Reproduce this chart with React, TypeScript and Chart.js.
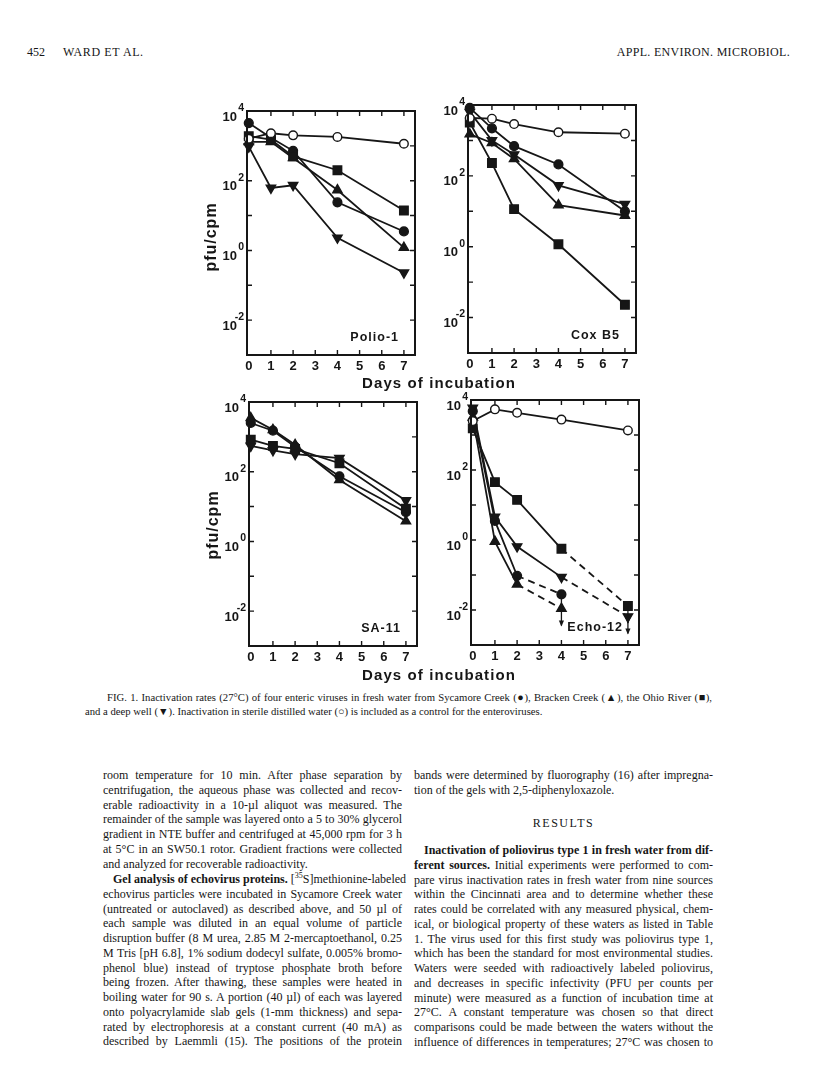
import React, { useEffect, useRef } from "react";
import { Chart, registerables } from "chart.js";

Chart.register(...registerables);

// ---------- data ----------
const days = [0, 1, 2, 4, 7];
const xTickLabels = ["0", "1", "2", "3", "4", "5", "6", "7"];
const yTickExponents = [4, 2, 0, -2];

// Polio-1 (pfu/cpm)
const polioDistilled = [1600, 2300, 2000, 1800, 1150];
const polioSycamore = [4500, 1700, 720, 24, 3.5];
const polioBracken = [1300, 1300, 450, 54, 1.2];
const polioOhio = [1900, 1500, 500, 200, 14];
const polioWell = [950, 62, 74, 2.3, 0.23];

// Cox B5
const coxDistilled = [4300, 4100, 2900, 1700, 1550];
const coxSycamore = [8300, 2200, 690, 210, 10];
const coxBracken = [1500, 850, 300, 15, 7.6];
const coxOhio = [3200, 230, 11.5, 1.17, 0.023];
const coxWell = [6300, 1000, 400, 54, 16];

// SA-11
const saSycamore = [2500, 1500, 520, 74, 6.9];
const saBracken = [3500, 1600, 590, 58, 3.8];
const saOhio = [830, 550, 450, 175, 8.7];
const saWell = [550, 410, 320, 245, 15];

// Echo-12
const echoDistilled = [2500, 5400, 4300, 2750, 1350];
const echoSycamore = [4800, 3.5, 0.095, 0.028];
const echoBracken = [3200, 0.9, 0.054, 0.011];
const echoOhio = [1550, 45, 14, 0.56, 0.013];
const echoWell = [5900, 4.6, 0.65, 0.087, 0.0065];
// dashed segments start at this point index; upper-limit arrows
const echoSycamoreDashFrom = 2;
const echoBrackenDashFrom = 2;
const echoOhioDashFrom = 3;
const echoWellDashFrom = 3;
const echoSycamoreLimits = [false, false, false, true];
const echoBrackenLimits = [false, false, false, true];
const echoOhioLimits = [false, false, false, false, true];
const echoWellLimits = [false, false, false, false, true];

const INK = "#161616";
const SANS = '"Liberation Sans", Arial, Helvetica, sans-serif';
const SERIF = '"Liberation Serif", "Times New Roman", Times, serif';

type Kind = "sycamore" | "bracken" | "ohio" | "well" | "distilled";

function makeDataset(values: number[], kind: Kind, dashFrom?: number, limits?: boolean[]) {
  const pts = values.map((v, i) => ({ x: days[i], y: v }));
  let pointStyle: any = "circle";
  let pointRadius = 4.4;
  let rotation = 0;
  let bg = INK;
  if (kind === "bracken") { pointStyle = "triangle"; pointRadius = 5.4; }
  if (kind === "well") { pointStyle = "triangle"; pointRadius = 5.4; rotation = 180; }
  if (kind === "ohio") { pointStyle = "rect"; pointRadius = 6; }
  if (kind === "distilled") { pointRadius = 4.3; bg = "#ffffff"; }
  const ds: any = {
    data: pts,
    borderColor: INK,
    borderWidth: 1.8,
    pointStyle,
    pointRotation: rotation,
    pointRadius,
    pointBackgroundColor: bg,
    pointBorderColor: INK,
    pointBorderWidth: 1.4,
    tension: 0,
    fill: false,
    clip: false,
    limits,
  };
  if (dashFrom !== undefined) {
    ds.segment = {
      borderDash: (ctx: any) => (ctx.p0DataIndex >= dashFrom ? [7, 5] : undefined),
    };
  }
  return ds;
}

function decorPlugin(title: string) {
  return {
    id: "decor",
    afterDraw(chart: any) {
      const { ctx, chartArea: a } = chart;
      const x = chart.scales.x;
      const y = chart.scales.y;
      ctx.save();
      ctx.strokeStyle = INK;
      ctx.fillStyle = INK;
      ctx.lineWidth = 2;
      ctx.strokeRect(a.left, a.top, a.right - a.left, a.bottom - a.top);
      ctx.lineWidth = 1.4;
      ctx.beginPath();
      for (let d = 1; d <= 7; d++) {
        const px = x.getPixelForValue(d);
        ctx.moveTo(px, a.top); ctx.lineTo(px, a.top + 5);
        ctx.moveTo(px, a.bottom); ctx.lineTo(px, a.bottom - 5);
      }
      for (let e = -2; e <= 3; e++) {
        const py = y.getPixelForValue(Math.pow(10, e));
        ctx.moveTo(a.left, py); ctx.lineTo(a.left + 5, py);
        ctx.moveTo(a.right, py); ctx.lineTo(a.right - 5, py);
      }
      ctx.stroke();
      // x tick labels
      ctx.font = `bold 13px ${SANS}`;
      ctx.textAlign = "center";
      ctx.textBaseline = "middle";
      xTickLabels.forEach((t, i) => ctx.fillText(t, x.getPixelForValue(i), a.bottom + 11));
      // y tick labels 10^n
      yTickExponents.forEach((e) => {
        const py = y.getPixelForValue(Math.pow(10, e));
        ctx.textAlign = "right";
        ctx.font = `bold 13px ${SANS}`;
        ctx.fillText("10", a.left - 10, py + 6);
        ctx.font = `bold 10.5px ${SANS}`;
        ctx.fillText(String(e), a.left - 3, py - 3);
      });
      // title
      ctx.font = `bold 12.5px ${SANS}`;
      try { (ctx as any).letterSpacing = "1px"; } catch (err) {}
      ctx.textAlign = "right";
      ctx.fillText(title, a.right - 16, a.bottom - 17);
      try { (ctx as any).letterSpacing = "0px"; } catch (err) {}
      // upper-limit arrows
      ctx.lineWidth = 1.3;
      chart.data.datasets.forEach((ds: any, di: number) => {
        if (!ds.limits) return;
        const meta = chart.getDatasetMeta(di);
        ds.limits.forEach((l: boolean, i: number) => {
          if (!l) return;
          const el = meta.data[i];
          const px = el.x, py = el.y;
          ctx.beginPath();
          ctx.moveTo(px, py);
          ctx.lineTo(px, py + 17);
          ctx.stroke();
          ctx.beginPath();
          ctx.moveTo(px - 2.6, py + 12);
          ctx.lineTo(px, py + 18);
          ctx.lineTo(px + 2.6, py + 12);
          ctx.closePath();
          ctx.fill();
        });
      });
      ctx.restore();
    },
  };
}

const PAD = { left: 45, top: 14, right: 10, bottom: 24 };

function Panel(props: { left: number; top: number; w: number; h: number; title: string; datasets: any[] }) {
  const ref = useRef<HTMLCanvasElement | null>(null);
  const cw = props.w + PAD.left + PAD.right;
  const chh = props.h + PAD.top + PAD.bottom;
  useEffect(() => {
    if (!ref.current) return;
    const chart = new Chart(ref.current, {
      type: "line",
      data: { datasets: props.datasets },
      options: {
        animation: false,
        responsive: false,
        maintainAspectRatio: false,
        devicePixelRatio: 1,
        layout: { padding: PAD },
        plugins: { legend: { display: false }, tooltip: { enabled: false } },
        events: [],
        scales: {
          x: { type: "linear", min: -0.08, max: 7.5, display: false },
          y: { type: "logarithmic", min: 1e-3, max: 1e4, display: false },
        },
      } as any,
      plugins: [decorPlugin(props.title)],
    });
    return () => chart.destroy();
  }, []);
  return (
    <canvas
      ref={ref}
      width={cw}
      height={chh}
      style={{ position: "absolute", left: props.left - PAD.left, top: props.top - PAD.top, width: cw, height: chh }}
    />
  );
}

function Line(props: { x: number; y: number; w?: number; last?: boolean; indent?: number; children: any }) {
  return (
    <div
      style={{
        position: "absolute",
        left: props.x,
        top: props.y - 8,
        width: props.w ?? 299,
        height: 16,
        lineHeight: "16px",
        fontSize: 12,
        fontFamily: SERIF,
        whiteSpace: "nowrap",
        textAlign: "justify",
        textAlignLast: props.last ? "left" : "justify",
        paddingLeft: props.indent ?? 0,
        boxSizing: "border-box",
      } as any}
    >
      {props.children}
    </div>
  );
}

export default function App() {
  const polio = [
    makeDataset(polioDistilled, "distilled"),
    makeDataset(polioOhio, "ohio"),
    makeDataset(polioBracken, "bracken"),
    makeDataset(polioWell, "well"),
    makeDataset(polioSycamore, "sycamore"),
  ];
  const cox = [
    makeDataset(coxDistilled, "distilled"),
    makeDataset(coxOhio, "ohio"),
    makeDataset(coxBracken, "bracken"),
    makeDataset(coxWell, "well"),
    makeDataset(coxSycamore, "sycamore"),
  ];
  const sa = [
    makeDataset(saOhio, "ohio"),
    makeDataset(saWell, "well"),
    makeDataset(saBracken, "bracken"),
    makeDataset(saSycamore, "sycamore"),
  ];
  const echo = [
    makeDataset(echoDistilled, "distilled"),
    makeDataset(echoOhio, "ohio", echoOhioDashFrom, echoOhioLimits),
    makeDataset(echoWell, "well", echoWellDashFrom, echoWellLimits),
    makeDataset(echoBracken, "bracken", echoBrackenDashFrom, echoBrackenLimits),
    makeDataset(echoSycamore, "sycamore", echoSycamoreDashFrom, echoSycamoreLimits),
  ];

  const step = 14.75;
  const L = 103;
  const R = 414;
  const axisLabel: any = { position: "absolute", fontFamily: SANS, fontWeight: "bold", color: INK, whiteSpace: "nowrap" };

  return (
    <div style={{ position: "absolute", left: 0, top: 0, width: 816, height: 1080, background: "#fff", color: INK, overflow: "hidden" }}>
      {/* running head */}
      <div style={{ position: "absolute", left: 27, top: 44, fontFamily: SERIF, fontSize: 12, lineHeight: "16px" }}>452</div>
      <div style={{ position: "absolute", left: 63, top: 44, fontFamily: SERIF, fontSize: 12, lineHeight: "16px", letterSpacing: 0.6 }}>WARD ET AL.</div>
      <div style={{ position: "absolute", right: 26, top: 44, fontFamily: SERIF, fontSize: 12, lineHeight: "16px", letterSpacing: 0.3 }}>APPL. ENVIRON. MICROBIOL.</div>

      {/* panels */}
      <Panel left={247} top={111} w={168} h={244} title="Polio-1" datasets={polio} />
      <Panel left={468} top={105} w={168} h={248} title="Cox B5" datasets={cox} />
      <Panel left={249} top={402} w={168} h={244} title="SA-11" datasets={sa} />
      <Panel left={471} top={400} w={168} h={245} title="Echo-12" datasets={echo} />

      {/* axis titles */}
      <div style={{ ...axisLabel, left: 211, top: 237, fontSize: 16, letterSpacing: 1, transform: "translate(-50%,-50%) rotate(-90deg)" }}>pfu/cpm</div>
      <div style={{ ...axisLabel, left: 213, top: 525, fontSize: 16, letterSpacing: 1, transform: "translate(-50%,-50%) rotate(-90deg)" }}>pfu/cpm</div>
      <div style={{ ...axisLabel, left: 439, top: 382, fontSize: 15, letterSpacing: 1.1, transform: "translate(-50%,-50%)" }}>Days of incubation</div>
      <div style={{ ...axisLabel, left: 439, top: 674, fontSize: 15, letterSpacing: 1.1, transform: "translate(-50%,-50%)" }}>Days of incubation</div>

      {/* caption */}
      <Line x={107} y={697} w={605}>
        <span style={{ fontSize: 10.7 }}>FIG. 1. Inactivation rates (27°C) of four enteric viruses in fresh water from Sycamore Creek (●), Bracken Creek (▲), the Ohio River (■),</span>
      </Line>
      <Line x={85} y={711} w={620} last>
        <span style={{ fontSize: 10.7 }}>and a deep well (▼). Inactivation in sterile distilled water (○) is included as a control for the enteroviruses.</span>
      </Line>

      {/* left column */}
      <Line x={L} y={775}>room temperature for 10 min. After phase separation by</Line>
      <Line x={L} y={775 + step}>centrifugation, the aqueous phase was collected and recov-</Line>
      <Line x={L} y={775 + step * 2}>erable radioactivity in a 10-µl aliquot was measured. The</Line>
      <Line x={L} y={775 + step * 3}>remainder of the sample was layered onto a 5 to 30% glycerol</Line>
      <Line x={L} y={775 + step * 4}>gradient in NTE buffer and centrifuged at 45,000 rpm for 3 h</Line>
      <Line x={L} y={775 + step * 5}>at 5°C in an SW50.1 rotor. Gradient fractions were collected</Line>
      <Line x={L} y={775 + step * 6} last>and analyzed for recoverable radioactivity.</Line>
      <Line x={L} y={879} indent={10}>
        <b>Gel analysis of echovirus proteins.</b> [<sup style={{ fontSize: 8, lineHeight: 0 }}>35</sup>S]methionine-labeled
      </Line>
      <Line x={L} y={879 + step}>echovirus particles were incubated in Sycamore Creek water</Line>
      <Line x={L} y={879 + step * 2}>(untreated or autoclaved) as described above, and 50 µl of</Line>
      <Line x={L} y={879 + step * 3}>each sample was diluted in an equal volume of particle</Line>
      <Line x={L} y={879 + step * 4}>disruption buffer (8 M urea, 2.85 M 2-mercaptoethanol, 0.25</Line>
      <Line x={L} y={879 + step * 5}>M Tris [pH 6.8], 1% sodium dodecyl sulfate, 0.005% bromo-</Line>
      <Line x={L} y={879 + step * 6}>phenol blue) instead of tryptose phosphate broth before</Line>
      <Line x={L} y={879 + step * 7}>being frozen. After thawing, these samples were heated in</Line>
      <Line x={L} y={879 + step * 8}>boiling water for 90 s. A portion (40 µl) of each was layered</Line>
      <Line x={L} y={879 + step * 9}>onto polyacrylamide slab gels (1-mm thickness) and sepa-</Line>
      <Line x={L} y={879 + step * 10}>rated by electrophoresis at a constant current (40 mA) as</Line>
      <Line x={L} y={879 + step * 11}>described by Laemmli (15). The positions of the protein</Line>

      {/* right column */}
      <Line x={R} y={775}>bands were determined by fluorography (16) after impregna-</Line>
      <Line x={R} y={775 + step} last>tion of the gels with 2,5-diphenyloxazole.</Line>
      <div style={{ position: "absolute", left: R, width: 299, top: 815, textAlign: "center", fontFamily: SERIF, fontSize: 12, lineHeight: "16px", letterSpacing: 1.5 }}>RESULTS</div>
      <Line x={R} y={850} indent={10}><b>Inactivation of poliovirus type 1 in fresh water from dif-</b></Line>
      <Line x={R} y={850 + step}><b>ferent sources.</b> Initial experiments were performed to com-</Line>
      <Line x={R} y={850 + step * 2}>pare virus inactivation rates in fresh water from nine sources</Line>
      <Line x={R} y={850 + step * 3}>within the Cincinnati area and to determine whether these</Line>
      <Line x={R} y={850 + step * 4}>rates could be correlated with any measured physical, chem-</Line>
      <Line x={R} y={850 + step * 5}>ical, or biological property of these waters as listed in Table</Line>
      <Line x={R} y={850 + step * 6}>1. The virus used for this first study was poliovirus type 1,</Line>
      <Line x={R} y={850 + step * 7}>which has been the standard for most environmental studies.</Line>
      <Line x={R} y={850 + step * 8}>Waters were seeded with radioactively labeled poliovirus,</Line>
      <Line x={R} y={850 + step * 9}>and decreases in specific infectivity (PFU per counts per</Line>
      <Line x={R} y={850 + step * 10}>minute) were measured as a function of incubation time at</Line>
      <Line x={R} y={850 + step * 11}>27°C. A constant temperature was chosen so that direct</Line>
      <Line x={R} y={850 + step * 12}>comparisons could be made between the waters without the</Line>
      <Line x={R} y={850 + step * 13}>influence of differences in temperatures; 27°C was chosen to</Line>
    </div>
  );
}
